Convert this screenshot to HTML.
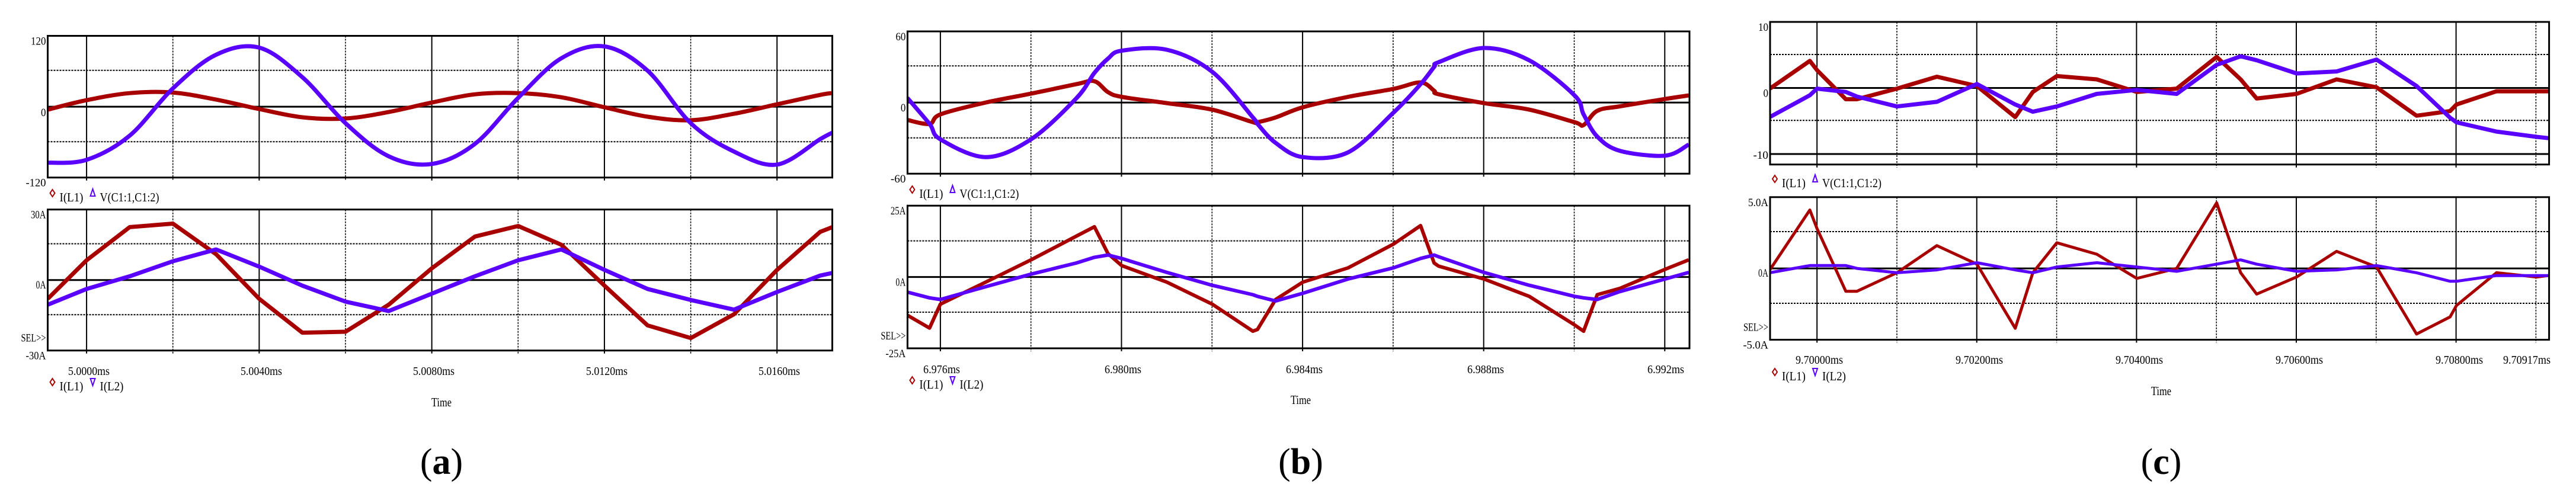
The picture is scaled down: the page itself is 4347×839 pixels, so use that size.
<!DOCTYPE html>
<html><head><meta charset="utf-8">
<style>
html,body{margin:0;padding:0;background:#fff;}
svg{display:block;}
text{font-family:"Liberation Serif",serif;fill:#000;}
</style></head>
<body>
<svg id="chart" width="4347" height="839" viewBox="0 0 4347 839" xmlns="http://www.w3.org/2000/svg"></svg>
<script>
// ---- Panel (a) data: time in µs after 5.0000ms ----
const aTimes = [-0.9,0,1,2,3,4,5,6,7,8,9,10,11,12,13,14,15,16,17,17.28];
const aTopRed = [-5,11,23,24,12,-4,-18,-20,-9,7,21,23,16,-1,-17,-23,-12,4,20,23];
const aTopBlue = [-95,-90,-49,31,88,100,50,-28,-84,-97,-63,15,82,102,61,-28,-76,-98,-55,-44];
const aBotRed = [-8,8.4,22.5,24,11,-8,-22.4,-22,-10.5,5,18.5,23,15,-2.4,-19.3,-24.7,-14.6,4.3,20.5,22.5];
const aBotBlue = [-10.5,-3.8,1.6,8,13,5.7,-2.4,-9.2,-13.2,-5.8,1.6,8.4,13,4.3,-3.8,-8.5,-12.6,-5.1,1.9,3];
const aTickLabels = ["5.0000ms","5.0040ms","5.0080ms","5.0120ms","5.0160ms"];
const aTopYLabels = ["120","0","-120"];
const aBotYLabels = ["30A","0A","-30A"];

// ---- Panel (b) data: time in µs after 6.976ms ----
const bTimes = [-0.73,-0.24,0,1,2,3,3.4,3.7,4,5,6,6.9,7,7.4,8,9,10,10.6,10.9,11,12,13,14,14.2,14.5,15,16,16.52];
const bTopRed = [-14.7,-18,-10,0,7.5,15.5,18,8.8,4.8,-0.5,-6,-16.6,-16.6,-12.6,-4,4.8,11.5,17,10,7,-0.5,-6,-16.6,-19,-7,-3.2,3,6];
const bTopBlue = [4,-18,-31,-46,-31,3.5,25,37,43.7,44.5,26,-12.6,-18,-34,-46,-42,-8.6,15.5,30,34,46,35.6,6,-10,-28.7,-40.7,-44.8,-35.4];
const bBotRed = [-13.4,-17.9,-9.5,-1.8,6,14.3,17.6,8.2,4,-1.8,-9.5,-19,-18.4,-7.9,-1.8,3.2,11.5,18,4.9,3.8,-0.7,-6.8,-16.8,-19,-6.2,-4,2.7,6];
const bBotBlue = [-5.3,-7.3,-7.9,-3.4,1,4.9,6.9,7.7,6.5,1.6,-2.9,-6.2,-6.8,-8.4,-5.7,-0.7,3.2,6.5,7.7,7.1,1.6,-2.9,-6.8,-7.3,-7.9,-5.1,-0.7,1.6];
const bTickLabels = ["6.976ms","6.980ms","6.984ms","6.988ms","6.992ms"];
const bTopYLabels = ["60","0","-60"];
const bBotYLabels = ["25A","0A","-25A"];

// ---- Panel (c) data: time in µs after 9.70000ms ----
const cTimes = [-0.59,-0.09,0,0.36,0.5,1,1.5,2,2.48,2.7,3,3.5,4,4.5,5,5.3,5.5,6,6.5,7,7.5,7.92,8,8.5,9,9.15];
const cTopRed = [-0.1,4.1,2.7,-1.7,-1.7,-0.1,1.7,0.3,-4.4,-0.6,1.8,1.3,-0.6,-0.1,4.7,1.3,-1.6,-0.9,1.3,0.1,-4.2,-3.5,-2.5,-0.5,-0.5,-0.5];
const cTopBlue = [-4.4,-1.1,-0.1,-0.6,-1.3,-2.8,-2.1,0.6,-2.5,-3.6,-2.8,-0.9,-0.3,-0.9,3.5,4.8,4.2,2.2,2.5,4.3,0.3,-4.5,-5.2,-6.6,-7.4,-7.6];
const cBotRed = [-0.1,4.1,2.8,-1.6,-1.6,-0.3,1.6,0.3,-4.2,-0.3,1.8,1,-0.7,0,4.6,-0.3,-1.8,-0.6,1.2,0.1,-4.6,-3.4,-2.6,-0.3,-0.6,-0.5];
const cBotBlue = [-0.3,0.2,0.2,0.2,0,-0.3,-0.1,0.4,-0.1,-0.3,0.1,0.4,0.1,-0.2,0.3,0.6,0.3,-0.2,-0.1,0.2,-0.3,-0.9,-0.9,-0.5,-0.5,-0.5];
const cTickLabels = ["9.70000ms","9.70200ms","9.70400ms","9.70600ms","9.70800ms","9.70917ms"];
const cTopYLabels = ["10","0","-10"];
const cBotYLabels = ["5.0A","0A","-5.0A"];

const NS = "http://www.w3.org/2000/svg";
const svg = document.getElementById('chart');
const RED = "#a80000", BLUE = "#5a00ff";

function mk(tag, attrs, parent) {
  const e = document.createElementNS(NS, tag);
  for (const k in attrs) e.setAttribute(k, attrs[k]);
  (parent || svg).appendChild(e);
  return e;
}
function txt(parent, x, y, s, size, anchor, len) {
  const t = mk('text', {x: x, y: y, 'font-size': size, 'text-anchor': anchor || 'start'}, parent);
  if (len) { t.setAttribute('textLength', len); t.setAttribute('lengthAdjust', 'spacingAndGlyphs'); }
  t.textContent = s;
  return t;
}

function pathD(pts, smooth) {
  if (!smooth) return pts.map((p, i) => (i ? 'L' : 'M') + p[0].toFixed(1) + ',' + p[1].toFixed(1)).join(' ');
  let d = 'M' + pts[0][0].toFixed(1) + ',' + pts[0][1].toFixed(1);
  for (let i = 0; i < pts.length - 1; i++) {
    const p0 = pts[Math.max(0, i - 1)], p1 = pts[i], p2 = pts[i + 1], p3 = pts[Math.min(pts.length - 1, i + 2)];
    const c1x = p1[0] + (p2[0] - p0[0]) / 6, c1y = p1[1] + (p2[1] - p0[1]) / 6;
    const c2x = p2[0] - (p3[0] - p1[0]) / 6, c2y = p2[1] - (p3[1] - p1[1]) / 6;
    d += ` C${c1x.toFixed(1)},${c1y.toFixed(1)} ${c2x.toFixed(1)},${c2y.toFixed(1)} ${p2[0].toFixed(1)},${p2[1].toFixed(1)}`;
  }
  return d;
}

function drawPlot(g, cfg, times, red, blue, xf, lw, tag, smooth) {
  const yf = v => cfg.yTopPix + (cfg.yTopVal - v) * (cfg.yBotPix - cfg.yTopPix) / (cfg.yTopVal - cfg.yBotVal);
  const plot = mk('g', {}, g);
  
  
  cfg.grid.forEach((gx, i) => {
    const l = mk('line', {x1: gx, x2: gx, y1: cfg.top, y2: cfg.bottom + 5, stroke: '#000',
      'stroke-width': i % 2 === 0 ? 2 : 1.5, 'stroke-dasharray': i % 2 === 0 ? 'none' : '3,2'}, plot);
    
    
  });
  cfg.dashes.forEach(dy => {
    const l = mk('line', {x1: cfg.left, x2: cfg.right, y1: dy, y2: dy, stroke: '#000', 'stroke-width': 2, 'stroke-dasharray': '3,2'}, plot);
    
    
  });
  (cfg.solidH || []).forEach(dy => {
    const l = mk('line', {x1: cfg.left, x2: cfg.right, y1: dy, y2: dy, stroke: '#000', 'stroke-width': 3}, plot);
    
    
  });
  const zl = mk('line', {x1: cfg.left, x2: cfg.right, y1: yf(0), y2: yf(0), stroke: '#000', 'stroke-width': 3}, plot);
  
  
  const clipId = 'clip' + tag;
  const cp = mk('clipPath', {id: clipId}, plot);
  mk('rect', {x: cfg.left, y: cfg.top, width: cfg.right - cfg.left, height: cfg.bottom - cfg.top}, cp);
  [[red, RED, 'red'], [blue, BLUE, 'blue']].forEach(([vals, col, nm]) => {
    const pts = vals.map((v, i) => [xf(times[i]), yf(v)]);
    const p = mk('path', {d: pathD(pts, smooth), fill: 'none', stroke: col, 'stroke-width': lw, 'stroke-linejoin': 'round', 'clip-path': 'url(#' + clipId + ')'}, plot);
    
    
  });
  const fr = mk('rect', {x: cfg.left, y: cfg.top, width: cfg.right - cfg.left, height: cfg.bottom - cfg.top, fill: 'none', stroke: '#000', 'stroke-width': 3}, plot);
  
  
  return yf;
}

function yLabels(g, cfg, labels, ys) {
  labels.forEach((s, i) => {
    const t = txt(g, cfg.left - 3, ys[i] + 15, s, 19, 'end', s.length * 8.5);
    
    
  });
}

function legend(g, x, y, second) {
  const lg = mk('g', {}, g);
  
  
  const d1 = mk('path', {d: `M${x},${y-12} L${x+4},${y-6} L${x},${y} L${x-4},${y-6} Z`, fill: 'none', stroke: RED, 'stroke-width': 2}, lg);
  
  
  const t1 = txt(lg, x + 12, y + 8, 'I(L1)', 21, 'start', 40);
  
  
  const tx = x + 68;
  const tri = second === 'V' ? `M${tx},${y-13} L${tx+4},${y-1} L${tx-4},${y-1} Z` : `M${tx-4},${y-12} L${tx+4},${y-12} L${tx},${y} Z`;
  const d2 = mk('path', {d: tri, fill: 'none', stroke: BLUE, 'stroke-width': 2}, lg);
  
  
  const t2 = second === 'V' ? txt(lg, tx + 12, y + 8, 'V(C1:1,C1:2)', 21, 'start', 100) : txt(lg, tx + 12, y + 8, 'I(L2)', 21, 'start', 40);
  
  
}

function panel(P) {
  const g = mk('g', {});
  
  
  const xf = t => P.x0 + t * P.pxPerUs;
  const top = P.top, bot = P.bot;
  drawPlot(g, top, P.times, P.topRed, P.topBlue, xf, P.lwTop, P.id + '-top', P.smoothTop);
  drawPlot(g, bot, P.times, P.botRed, P.botBlue, xf, P.lwBot, P.id + '-bottom', false);
  yLabels(g, top, P.topY, P.topYpos);
  yLabels(g, bot, P.botY, P.botYpos);
  const sel = txt(g, bot.left - 3, bot.bottom - 15, 'SEL>>', 19, 'end', 42);
  
  
  legend(g, top.left + 8, P.leg1y, 'V');
  legend(g, top.left + 8, P.leg2y, 'I');
  P.ticks.forEach((s, i) => {
    const t = txt(g, P.tickX[i], P.tickY, s, 20, 'middle', P.tickLen);
    
    
  });
  const tm = txt(g, P.center, P.timeY, 'Time', 21, 'middle', 34);
  
  
  const cap = mk('text', {x: P.center, y: 800, 'font-size': 62, 'text-anchor': 'middle'}, g);
  
  
  cap.appendChild(document.createTextNode('('));
  const b = mk('tspan', {'font-weight': 'bold'}, cap); b.textContent = P.id;
  cap.appendChild(document.createTextNode(')'));
}

function grid(start, step, n) { const a = []; for (let i = 0; i < n; i++) a.push(start + i * step); return a; }

panel({
  id: 'a', times: aTimes, topRed: aTopRed, topBlue: aTopBlue, botRed: aBotRed, botBlue: aBotBlue,
  x0: 146.1, pxPerUs: 72.825, lwTop: 7, lwBot: 7, smoothTop: true,
  top: {left: 80.5, right: 1404.5, top: 60.5, bottom: 299.7, yTopVal: 120, yTopPix: 60.5, yBotVal: -120, yBotPix: 299.7,
        dashes: [118.8, 239.2], grid: grid(146.1, 145.64, 9)},
  bot: {left: 80.5, right: 1404.5, top: 353.7, bottom: 591.7, yTopVal: 30, yTopPix: 353.7, yBotVal: -30, yBotPix: 591.7,
        dashes: [411.5, 531.2], grid: grid(146.1, 145.64, 9)},
  topY: aTopYLabels, topYpos: [60.5, 180.9, 299.7], botY: aBotYLabels, botYpos: [353.7, 472, 591.7],
  leg1y: 332, leg2y: 651, ticks: aTickLabels, tickX: [150, 441, 732, 1024, 1315], tickY: 633, tickLen: 70,
  timeY: 686, center: 745
});
panel({
  id: 'b', times: bTimes, topRed: bTopRed, topBlue: bTopBlue, botRed: bBotRed, botBlue: bBotBlue,
  x0: 1586.9, pxPerUs: 76.44, lwTop: 7, lwBot: 6, smoothTop: true,
  top: {left: 1531.4, right: 2851, top: 53, bottom: 293.2, yTopVal: 60, yTopPix: 53, yBotVal: -60, yBotPix: 293.2,
        dashes: [111.3, 232.7], grid: grid(1586.9, 152.8, 9)},
  bot: {left: 1531.4, right: 2851, top: 347.2, bottom: 588, yTopVal: 25, yTopPix: 347.2, yBotVal: -25, yBotPix: 588,
        dashes: [406.6, 527], grid: grid(1586.9, 152.8, 9)},
  topY: bTopYLabels, topYpos: [53, 172.8, 293.2], botY: bBotYLabels, botYpos: [347.2, 467.6, 588],
  leg1y: 326, leg2y: 648, ticks: bTickLabels, tickX: [1589, 1895, 2201, 2507, 2811], tickY: 630, tickLen: 62,
  timeY: 682, center: 2195
});
panel({
  id: 'c', times: cTimes, topRed: cTopRed, topBlue: cTopBlue, botRed: cBotRed, botBlue: cBotBlue,
  x0: 3066.2, pxPerUs: 134.89, lwTop: 7, lwBot: 5, smoothTop: false,
  top: {left: 2987, right: 4301.6, top: 37, bottom: 277.7, yTopVal: 10, yTopPix: 37, yBotVal: -10, yBotPix: 260,
        dashes: [92, 203.3], solidH: [260], grid: grid(3066.2, 134.8, 10)},
  bot: {left: 2987, right: 4301.6, top: 332.8, bottom: 573.5, yTopVal: 5, yTopPix: 332.8, yBotVal: -5, yBotPix: 573.5,
        dashes: [391, 512], grid: grid(3066.2, 134.8, 10)},
  topY: cTopYLabels, topYpos: [37, 148.3, 253], botY: cBotYLabels, botYpos: [332.8, 452, 573.5],
  leg1y: 308, leg2y: 634, ticks: cTickLabels, tickX: [3070, 3340, 3610, 3880, 4150, 4264], tickY: 614, tickLen: 80,
  timeY: 667, center: 3647
});
</script>
</body></html>
